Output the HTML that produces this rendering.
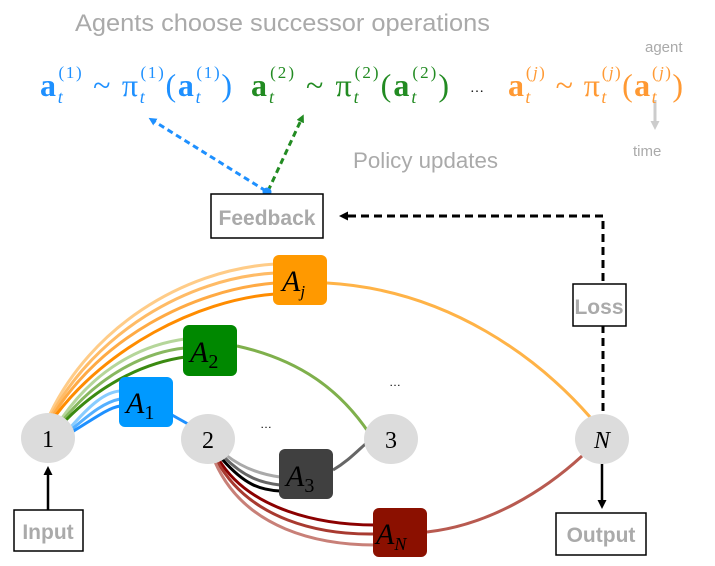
<!DOCTYPE html>
<html><head><meta charset="utf-8"><style>
html,body{margin:0;padding:0;background:#fff;}
svg{display:block;}
.m{font-family:"Liberation Serif",serif;}
.s{font-family:"Liberation Sans",sans-serif;}
</style></head><body>
<svg width="715" height="566" viewBox="0 0 715 566" xmlns="http://www.w3.org/2000/svg">
<defs>
<marker id="ab" markerWidth="8" markerHeight="8" refX="4" refY="4" orient="auto" markerUnits="userSpaceOnUse"><path d="M0,0 L8,4 L0,8 z" fill="#1e90ff"/></marker>
<marker id="ag" markerWidth="8" markerHeight="8" refX="4" refY="4" orient="auto" markerUnits="userSpaceOnUse"><path d="M0,0 L8,4 L0,8 z" fill="#228b22"/></marker>
<marker id="ak" markerWidth="9" markerHeight="9" refX="5" refY="4.5" orient="auto" markerUnits="userSpaceOnUse"><path d="M0,0 L9,4.5 L0,9 z" fill="#000"/></marker>
<marker id="agr" markerWidth="9" markerHeight="9" refX="5" refY="4.5" orient="auto" markerUnits="userSpaceOnUse"><path d="M0,0 L9,4.5 L0,9 z" fill="#ccc"/></marker>
</defs>
<text x="75" y="31" class="s" font-size="24" fill="#aaa" textLength="415" lengthAdjust="spacingAndGlyphs">Agents choose successor operations</text>
<text x="645" y="52" class="s" font-size="15" fill="#aaa">agent</text>
<line x1="655" y1="100" x2="655" y2="126" stroke="#ccc" stroke-width="3" marker-end="url(#agr)"/>
<text x="633" y="156" class="s" font-size="15" fill="#aaa">time</text>
<text x="353" y="168" class="s" font-size="22" fill="#aaa" textLength="145" lengthAdjust="spacingAndGlyphs">Policy updates</text>

<g class="m" font-size="32">
<text x="40" y="96" fill="#1e90ff" textLength="192" lengthAdjust="spacing"><tspan font-weight="bold">a</tspan><tspan font-size="18" font-style="italic" dy="7">t</tspan><tspan font-size="17" dx="-6" dy="-25">(1)</tspan><tspan dy="18"> ~ π</tspan><tspan font-size="18" font-style="italic" dy="7">t</tspan><tspan font-size="17" dx="-6" dy="-25">(1)</tspan><tspan dy="18">(</tspan><tspan font-weight="bold">a</tspan><tspan font-size="18" font-style="italic" dy="7">t</tspan><tspan font-size="17" dx="-6" dy="-25">(1)</tspan><tspan dy="18">)</tspan></text>
<text x="251" y="96" fill="#228b22" textLength="198" lengthAdjust="spacing"><tspan font-weight="bold">a</tspan><tspan font-size="18" font-style="italic" dy="7">t</tspan><tspan font-size="17" dx="-6" dy="-25">(2)</tspan><tspan dy="18"> ~ π</tspan><tspan font-size="18" font-style="italic" dy="7">t</tspan><tspan font-size="17" dx="-6" dy="-25">(2)</tspan><tspan dy="18">(</tspan><tspan font-weight="bold">a</tspan><tspan font-size="18" font-style="italic" dy="7">t</tspan><tspan font-size="17" dx="-6" dy="-25">(2)</tspan><tspan dy="18">)</tspan></text>
<text x="470" y="92" font-size="14" fill="#000">…</text>
<text x="508" y="96" fill="#ff9933" textLength="175" lengthAdjust="spacing"><tspan font-weight="bold">a</tspan><tspan font-size="18" font-style="italic" dy="7">t</tspan><tspan font-size="17" dx="-6" dy="-25">(<tspan font-style="italic">j</tspan>)</tspan><tspan dy="18"> ~ π</tspan><tspan font-size="18" font-style="italic" dy="7">t</tspan><tspan font-size="17" dx="-6" dy="-25">(<tspan font-style="italic">j</tspan>)</tspan><tspan dy="18">(</tspan><tspan font-weight="bold">a</tspan><tspan font-size="18" font-style="italic" dy="7">t</tspan><tspan font-size="17" dx="-6" dy="-25">(<tspan font-style="italic">j</tspan>)</tspan><tspan dy="18">)</tspan></text>
</g>

<line x1="266" y1="191" x2="152" y2="120" stroke="#1e90ff" stroke-width="3" stroke-dasharray="6,4" marker-end="url(#ab)"/>
<line x1="268" y1="191" x2="302" y2="118" stroke="#228b22" stroke-width="3" stroke-dasharray="6,4" marker-end="url(#ag)"/>
<circle cx="267" cy="192" r="4.5" fill="#1e90ff"/>

<rect x="211" y="194" width="112" height="44" fill="#fff" stroke="#000" stroke-width="1.5"/>
<text x="267" y="225" class="s" font-size="21" font-weight="bold" fill="#aaa" text-anchor="middle">Feedback</text>
<path d="M603,437 L603,216 L343,216" fill="none" stroke="#000" stroke-width="3" stroke-dasharray="8,5" marker-end="url(#ak)"/>
<rect x="573" y="284" width="53" height="42" fill="#fff" stroke="#000" stroke-width="1.5"/>
<text x="599" y="314" class="s" font-size="21" font-weight="bold" fill="#aaa" text-anchor="middle">Loss</text>

<g fill="none" stroke-width="3">
<path d="M50,414 C90,330 180,270 275,264" stroke="#ffcc88"/>
<path d="M52,414 C95,335 185,278 275,273" stroke="#ffbb66"/>
<path d="M54,414 C100,340 190,290 275,283" stroke="#ffaa44"/>
<path d="M56,415 C105,350 195,300 275,294" stroke="#ff8c00"/>
<path d="M62,418 C95,370 140,345 185,339" stroke="#b5d69a"/>
<path d="M64,419 C100,375 145,352 185,348" stroke="#88b860"/>
<path d="M66,420 C105,380 150,362 185,357" stroke="#3a8a10"/>
<path d="M70,428 C90,405 105,392 120,391" stroke="#88ccff"/>
<path d="M71,430 C92,412 105,402 120,399" stroke="#55b0ff"/>
<path d="M72,432 C95,418 108,408 120,406" stroke="#1e90ff"/>
<path d="M172,415 L188,424" stroke="#1e90ff"/>
<path d="M327,283 C450,290 540,360 590,417" stroke="#ffb347"/>
<path d="M237,346 C300,360 340,390 369,433" stroke="#7fb04c"/>
<path d="M333,470 C350,460 360,448 369,441" stroke="#666"/>
<path d="M226,455 C245,470 265,475 280,477" stroke="#aaa"/>
<path d="M224,457 C245,478 262,483 280,485" stroke="#666"/>
<path d="M222,459 C245,485 260,490 280,491" stroke="#000"/>
<path d="M219,460 C250,510 320,525 375,525" stroke="#8b0000"/>
<path d="M217,461 C250,520 320,535 375,534" stroke="#a83a30"/>
<path d="M215,462 C245,530 320,545 375,545" stroke="#c88078"/>
<path d="M427,532 C490,525 545,490 582,456" stroke="#b85a50"/>
</g>

<g class="m" font-style="italic" font-size="30">
<rect x="273" y="255" width="54" height="50" rx="6" fill="#ff9900"/>
<text x="282" y="291" fill="#000">A<tspan font-size="17" dy="6">j</tspan></text>
<rect x="183" y="325" width="54" height="51" rx="6" fill="#008800"/>
<text x="190" y="362" fill="#000">A<tspan font-size="20" font-style="normal" dy="6">2</tspan></text>
<rect x="119" y="377" width="54" height="50" rx="6" fill="#0099ff"/>
<text x="126" y="413" fill="#000">A<tspan font-size="20" font-style="normal" dy="6">1</tspan></text>
<rect x="279" y="449" width="54" height="50" rx="6" fill="#404040"/>
<text x="286" y="486" fill="#000">A<tspan font-size="20" font-style="normal" dy="6">3</tspan></text>
<rect x="373" y="508" width="54" height="49" rx="6" fill="#8b1000"/>
<text x="376" y="544" fill="#000">A<tspan font-size="18" dy="6">N</tspan></text>
</g>

<g class="m" font-size="24" text-anchor="middle">
<ellipse cx="48" cy="438" rx="27" ry="25" fill="#dcdcdc"/><text x="48" y="447">1</text>
<ellipse cx="208" cy="439" rx="27" ry="25" fill="#dcdcdc"/><text x="208" y="448">2</text>
<ellipse cx="391" cy="439" rx="27" ry="25" fill="#dcdcdc"/><text x="391" y="448">3</text>
<ellipse cx="602" cy="439" rx="27" ry="25" fill="#dcdcdc"/><text x="602" y="448" font-style="italic">N</text>
</g>
<text x="260" y="428" font-size="12" fill="#000" class="s">…</text>
<text x="389" y="386" font-size="12" fill="#000" class="s">…</text>

<line x1="48" y1="510" x2="48" y2="470" stroke="#000" stroke-width="2.5" marker-end="url(#ak)"/>
<rect x="14" y="510" width="69" height="41" fill="#fff" stroke="#000" stroke-width="1.5"/>
<text x="48" y="539" class="s" font-size="21" font-weight="bold" fill="#aaa" text-anchor="middle">Input</text>
<line x1="602" y1="464" x2="602" y2="505" stroke="#000" stroke-width="2.5" marker-end="url(#ak)"/>
<rect x="556" y="513" width="90" height="42" fill="#fff" stroke="#000" stroke-width="1.5"/>
<text x="601" y="542" class="s" font-size="21" font-weight="bold" fill="#aaa" text-anchor="middle">Output</text>
</svg>
</body></html>
